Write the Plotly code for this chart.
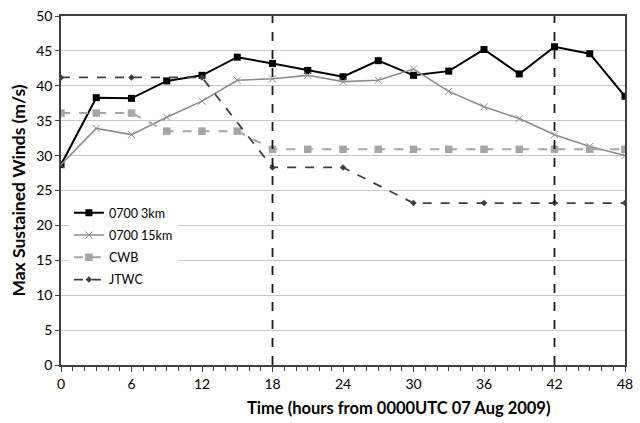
import plotly.graph_objects as go

# Forecast hours and series
hours_3h = [0, 3, 6, 9, 12, 15, 18, 21, 24, 27, 30, 33, 36, 39, 42, 45, 48]
hours_6h = [0, 6, 12, 18, 24, 30, 36, 42, 48]

wind_3km = [28.7, 38.3, 38.2, 40.7, 41.5, 44.1, 43.2, 42.2, 41.3, 43.6, 41.5, 42.1, 45.2, 41.7, 45.6, 44.6, 38.5]
wind_15km = [28.7, 33.9, 33.0, 35.5, 37.8, 40.8, 41.0, 41.5, 40.6, 40.8, 42.4, 39.2, 37.0, 35.3, 33.0, 31.3, 30.0]
wind_cwb = [36.1, 36.1, 36.1, 33.5, 33.5, 33.5, 30.9, 30.9, 30.9, 30.9, 30.9, 30.9, 30.9, 30.9, 30.9, 30.9, 30.9]
wind_jtwc = [41.2, 41.2, 41.2, 28.3, 28.3, 23.2, 23.2, 23.2, 23.2]

x_ticks = [0, 6, 12, 18, 24, 30, 36, 42, 48]
y_ticks = [0, 5, 10, 15, 20, 25, 30, 35, 40, 45, 50]
marker_hours = [18, 42]

FONT = "Lato, 'Open Sans', sans-serif"

fig = go.Figure()
fig.add_trace(go.Scatter(
    x=hours_3h, y=wind_3km, name="0700 3km", mode="lines+markers",
    line=dict(color="#000000", width=2),
    marker=dict(symbol="square", size=7, color="#000000"),
    legendgroup="a"))
fig.add_trace(go.Scatter(
    x=hours_3h, y=wind_15km, name="0700 15km", mode="lines+markers",
    line=dict(color="#8c8c8c", width=1.6),
    marker=dict(symbol="x-thin", size=7, line=dict(color="#8c8c8c", width=1)),
    legendgroup="b"))
fig.add_trace(go.Scatter(
    x=hours_3h, y=wind_cwb, name="CWB", mode="lines+markers",
    line=dict(color="#a6a6a6", width=2, dash="dash"),
    marker=dict(symbol="square", size=7.5, color="#a6a6a6"),
    legendgroup="c"))
fig.add_trace(go.Scatter(
    x=hours_6h, y=wind_jtwc, name="JTWC", mode="lines+markers",
    line=dict(color="#404040", width=1.8, dash="dash"),
    marker=dict(symbol="diamond", size=5, color="#404040"),
    legendgroup="d"))

for h in marker_hours:
    fig.add_shape(type="line", x0=h, x1=h, y0=0, y1=50, xref="x", yref="y",
                  line=dict(color="#1a1a1a", width=1.8, dash="dash"), layer="above")

fig.add_annotation(text="<b>Time (hours from 0000UTC 07 Aug 2009)</b>",
                   xref="paper", yref="paper", x=(403 - 61) / 572, y=-(408 - 364.7) / 350.7,
                   xanchor="center", yanchor="middle", showarrow=False,
                   font=dict(family=FONT, size=16.5, color="#000000"))

fig.update_layout(
    width=640, height=423,
    margin=dict(l=61, r=7, t=14, b=58),
    paper_bgcolor="white", plot_bgcolor="white",
    font=dict(family=FONT, size=14, color="#000000"),
    showlegend=True,
    legend=dict(x=0.014, y=0.478, xanchor="left", yanchor="top",
                bgcolor="white", borderwidth=0,
                font=dict(family=FONT, size=12.5, color="#000000"),
                traceorder="grouped", tracegroupgap=3),
    xaxis=dict(range=[0, 48], tickvals=x_ticks, ticktext=[str(v) for v in x_ticks],
               showgrid=False, zeroline=False,
               showline=True, linecolor="#404040", linewidth=1.5, mirror=True,
               ticks="outside", ticklen=5, tickcolor="#404040",
               minor=dict(dtick=1, ticks="outside", ticklen=4, tickcolor="#404040"),
               tickfont=dict(size=14)),
    yaxis=dict(range=[0, 50], tickvals=y_ticks,
               title=dict(text="<b>Max Sustained Winds (m/s)</b>", font=dict(size=17.5), standoff=6),
               showgrid=True, gridcolor="#c8c8c8", gridwidth=1, zeroline=False,
               showline=True, linecolor="#404040", linewidth=1.5, mirror=True,
               ticks="outside", ticklen=4, tickcolor="#404040",
               tickfont=dict(size=14)),
)

fig.write_html("out.html")
